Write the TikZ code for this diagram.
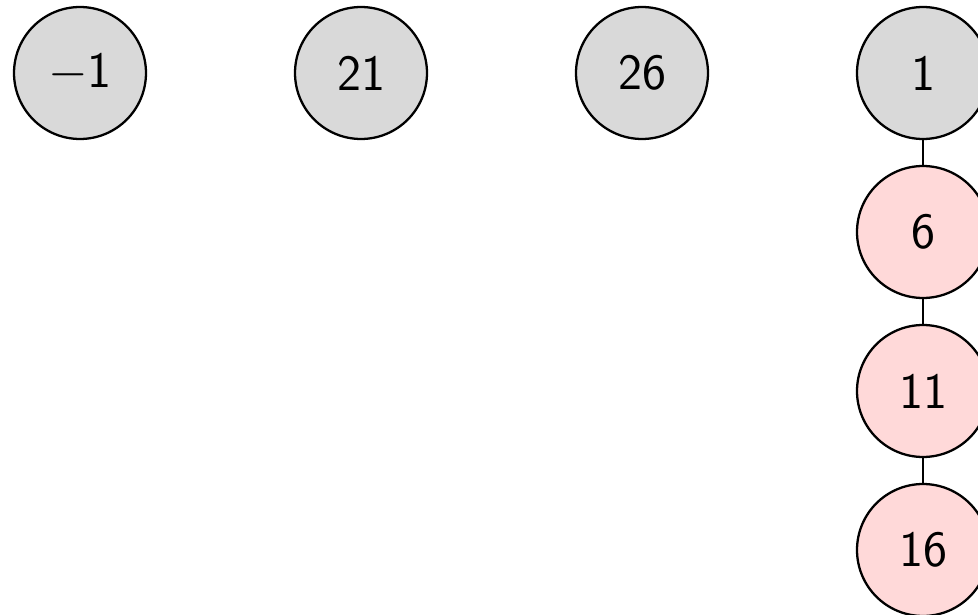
\RequirePackage{fix-cm}
\documentclass[tikz,border=0pt]{standalone}
\usepackage{amsmath}
\usepackage{amssymb}
\usepackage{tikz}

\tikzset{
  root/.style={circle, draw, line width=1.3pt, fill=gray!30, minimum size=2.64cm, inner sep=0pt,
    font=\sffamily\fontsize{29}{34}\selectfont},
  child/.style={root, fill=red!15}
}

\begin{document}
\begin{tikzpicture}[x=0.02cm,y=-0.02cm]
\useasboundingbox (0,0) rectangle (978,615);
\node [root] (rA) at (80,73) {$-$1};
\node [root] (rB) at (361,73) {21};
\node [root] (rC) at (642,73) {26};
\node [root] (rD) at (923,73) {1};
\node [child] (cA) at (923,232) {6};
\node [child] (cB) at (923,391) {11};
\node [child] (cC) at (923,550) {16};
\draw [line width=1.3pt] (rD) -- (cA);
\draw [line width=1.3pt] (cA) -- (cB);
\draw [line width=1.3pt] (cB) -- (cC);
\end{tikzpicture}
\end{document}
